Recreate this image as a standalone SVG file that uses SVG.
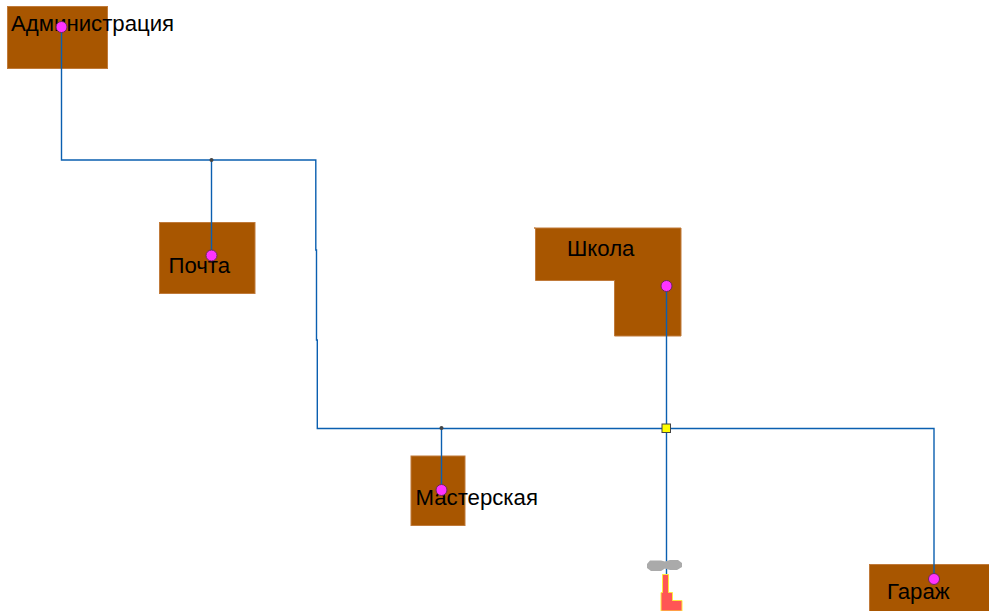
<svg xmlns="http://www.w3.org/2000/svg" width="989" height="611" viewBox="0 0 989 611">
<style>
.b{fill:#a85600;stroke:#c07a3a;stroke-width:1}
.t{font-family:"Liberation Sans",Arial,sans-serif;font-size:22.2px;fill:#000}
.c{fill:none;stroke:#0a5fb0;stroke-width:1.4}
.p{fill:#ff33ff;stroke:#6a2a5a;stroke-width:1}
.j{fill:#444;stroke:none}
</style>
<rect width="989" height="611" fill="#fff"/>
<g id="admin"><rect class="b" x="7.5" y="6.500" width="100" height="62"/><text class="t" x="11" y="31">Администрация</text></g>
<g id="pochta"><rect class="b" x="159.500" y="222.500" width="95.500" height="71"/><text class="t" x="168.500" y="273">Почта</text></g>
<g id="shkola"><path class="b" d="M534 228H681V336H614.500V280.500H535.500V228Z"/><text class="t" x="567" y="256">Школа</text></g>
<g id="masterskaya"><rect class="b" x="411" y="456" width="54" height="69.500"/><text class="t" x="415.500" y="504.500">Мастерская</text></g>
<g id="garazh"><rect class="b" x="869.500" y="564.500" width="120" height="47"/><text class="t" x="887" y="599">Гараж</text></g>
<g id="connectors">
<path class="c" d="M61.500 27V160H315.800V250H316.500V340H317.300V428.500H934V579"/>
<path class="c" d="M211.500 160V255"/>
<path class="c" d="M441.500 428V490"/>
<path class="c" d="M666.500 286V575"/>
</g>
<g id="kotelnaya">
<path d="M647 564L650 560.500H661L665 561.500L670 560H678L682 563L682 567L677 570H670L665 568.500L661 571H651L647 568Z" fill="#aaa"/>
<path d="M662.500 574.500H668.500V592.500H672.500V600.500H682V611H661V592.500H662.500Z" fill="#ff5555" stroke="#ffe93c" stroke-width="1"/>
</g>
<g id="junctions">
<circle class="j" cx="211.500" cy="160" r="2"/>
<circle class="j" cx="441.500" cy="428" r="2"/>
<rect x="662" y="424" width="8.500" height="8.500" fill="#ffff00" stroke="#444" stroke-width="1"/>
<circle class="p" cx="61.500" cy="27" r="5.500"/>
<circle class="p" cx="211.500" cy="255.500" r="5.500"/>
<circle class="p" cx="666.500" cy="286" r="5.500"/>
<circle class="p" cx="441.500" cy="490" r="5.500"/>
<circle class="p" cx="934" cy="579" r="5.500"/>
</g>
</svg>
